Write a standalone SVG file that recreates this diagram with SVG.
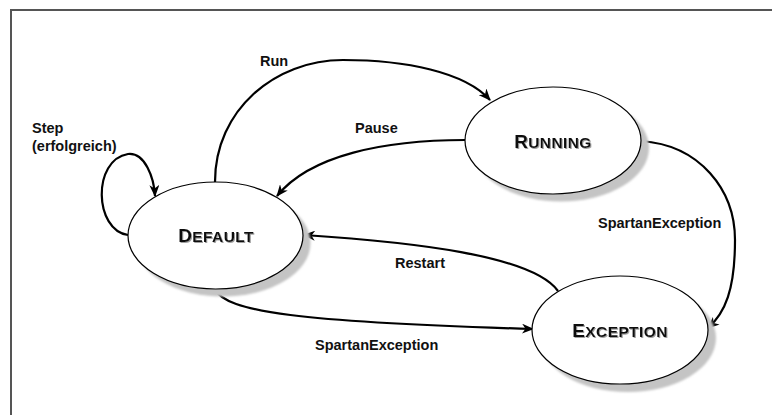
<svg xmlns="http://www.w3.org/2000/svg" width="772" height="415" viewBox="0 0 772 415">
<style>
.frame{fill:none;stroke:#555;stroke-width:2}
.node{fill:#fff;stroke:#000;stroke-width:1.2}
.shadow{fill:#c4c4c4}
.edge{fill:none;stroke:#000;stroke-width:2.2;marker-end:url(#arr)}
.lbl{font-family:"Liberation Sans",Arial,sans-serif;font-weight:bold;font-size:14.5px;fill:#111}
.name{font-family:"Liberation Sans",Arial,sans-serif;font-weight:bold;font-size:15.5px;fill:#111;filter:url(#ts)}
.cap{font-size:19px}
</style>
<defs>
<marker id="arr" viewBox="0 0 12 10" refX="11" refY="5" markerWidth="12" markerHeight="10" markerUnits="userSpaceOnUse" orient="auto">
<path d="M0,0 L12,5 L0,10 L3.5,5 z" fill="#000"/>
</marker>
<filter id="blur" x="-10%" y="-10%" width="120%" height="120%"><feGaussianBlur stdDeviation="1.2"/></filter>
<filter id="ts" x="-5%" y="-20%" width="110%" height="140%"><feDropShadow dx="1" dy="1" stdDeviation="0.6" flood-color="#888" flood-opacity="0.8"/></filter>
</defs>
<rect width="772" height="415" fill="#fff"/>
<path class="frame" d="M11,415 V10 H772"/>
<g id="connectors">
<path class="edge" d="M215,182 C215,110 275,60 343,60 C405,60 465,72 490,100"/>
<path class="edge" d="M465,140 C385,140 310,155 277,196"/>
<path class="edge" d="M128,235 C94,230 92,160 128,154 C145,152 154,178 155,196"/>
<path class="edge" d="M558,291 C532,255 410,242 304,235"/>
<path class="edge" d="M215,289 C225,312 300,322 533,329"/>
<path class="edge" d="M641,141 C700,145 735,190 735,240 C735,290 725,313 708,328"/>
</g>
<g id="labels">
<text class="lbl" x="260" y="66">Run</text>
<text class="lbl" x="355" y="133">Pause</text>
<text class="lbl" x="32" y="133">Step</text>
<text class="lbl" x="32" y="151">(erfolgreich)</text>
<text class="lbl" x="395" y="268">Restart</text>
<text class="lbl" x="315" y="350">SpartanException</text>
<text class="lbl" x="598" y="228">SpartanException</text>
</g>
<g id="default">
<ellipse class="shadow" cx="223" cy="243" rx="87.5" ry="53.5" filter="url(#blur)"/>
<ellipse class="node" cx="215.5" cy="235.5" rx="87.5" ry="53.5"/>
<text class="name" x="216" y="242" text-anchor="middle" letter-spacing="0.4"><tspan class="cap">D</tspan>EFAULT</text>
</g>
<g id="running">
<ellipse class="shadow" cx="561" cy="148" rx="88" ry="53.5" filter="url(#blur)"/>
<ellipse class="node" cx="553" cy="140.5" rx="88" ry="53.5"/>
<text class="name" x="553" y="148" text-anchor="middle" letter-spacing="0.4"><tspan class="cap">R</tspan>UNNING</text>
</g>
<g id="exception">
<ellipse class="shadow" cx="628" cy="338" rx="88" ry="54" filter="url(#blur)"/>
<ellipse class="node" cx="620" cy="330" rx="88" ry="54"/>
<text class="name" x="620" y="337" text-anchor="middle" letter-spacing="0.4"><tspan class="cap">E</tspan>XCEPTION</text>
</g>
</svg>
